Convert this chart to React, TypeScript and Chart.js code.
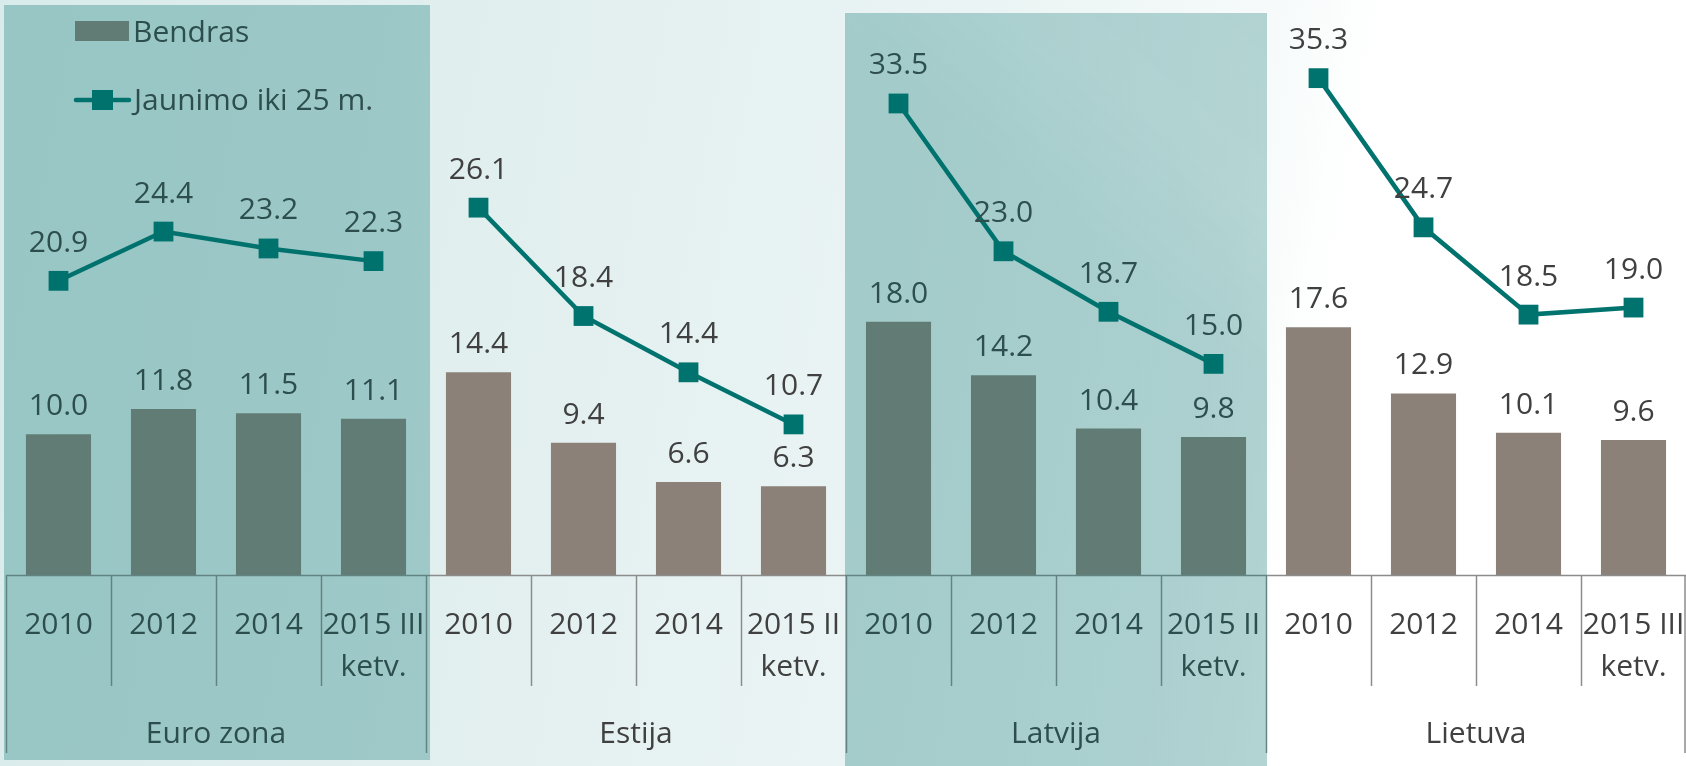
import React, { useEffect, useRef } from "react";
import { Chart, registerables } from "chart.js";

Chart.register(...registerables);

const groups = ["Euro zona", "Estija", "Latvija", "Lietuva"];
const yearLabels: string[][] = [
  ["2010"], ["2012"], ["2014"], ["2015 III", "ketv."],
  ["2010"], ["2012"], ["2014"], ["2015 II", "ketv."],
  ["2010"], ["2012"], ["2014"], ["2015 II", "ketv."],
  ["2010"], ["2012"], ["2014"], ["2015 III", "ketv."],
];
const bendras = [10.0, 11.8, 11.5, 11.1, 14.4, 9.4, 6.6, 6.3, 18.0, 14.2, 10.4, 9.8, 17.6, 12.9, 10.1, 9.6];
const jaunimo = [20.9, 24.4, 23.2, 22.3, 26.1, 18.4, 14.4, 10.7, 33.5, 23.0, 18.7, 15.0, 35.3, 24.7, 18.5, 19.0];
const seriesNames = ["Bendras", "Jaunimo iki 25 m."];
const highlightedGroups = [0, 2];

const BAR_COLOR = "#8B8178";
const LINE_COLOR = "#00736E";
const TEXT_COLOR = "#404040";
const GRID_COLOR = "#8c8c8c";
const OVERLAY = "rgba(0,112,108,0.30)";
const FONT = "30px 'Open Sans'";
const PER_GROUP = 4;

const customPlugin = {
  id: "customDraw",
  afterDraw(chart: any) {
    const ctx: CanvasRenderingContext2D = chart.ctx;
    const x = chart.scales.x;
    const area = chart.chartArea;
    const n = yearLabels.length;
    const step = x.getPixelForValue(1) - x.getPixelForValue(0);
    const boundary = (k: number) => (k < n ? x.getPixelForValue(k) - step / 2 : x.getPixelForValue(n - 1) + step / 2);
    const bottom = area.bottom;

    ctx.save();
    // axis baseline
    ctx.strokeStyle = GRID_COLOR;
    ctx.lineWidth = 1.5;
    ctx.beginPath();
    ctx.moveTo(boundary(0), bottom + 0.5);
    ctx.lineTo(boundary(n), bottom + 0.5);
    ctx.stroke();
    // dividers
    for (let k = 0; k <= n; k++) {
      const px = Math.min(Math.round(boundary(k)) + 0.5, chart.width - 1);
      const isGroup = k % PER_GROUP === 0;
      ctx.beginPath();
      ctx.moveTo(px, bottom);
      ctx.lineTo(px, bottom + (isGroup ? 178 : 111));
      ctx.stroke();
    }
    // year labels
    ctx.fillStyle = TEXT_COLOR;
    ctx.font = FONT;
    ctx.textAlign = "center";
    ctx.textBaseline = "alphabetic";
    yearLabels.forEach((lines, i) => {
      const cx = x.getPixelForValue(i);
      lines.forEach((t, j) => ctx.fillText(t, cx, bottom + 59 + j * 42));
    });
    // group labels
    groups.forEach((g, gi) => {
      const cx = (boundary(gi * PER_GROUP) + boundary((gi + 1) * PER_GROUP)) / 2;
      ctx.fillText(g, cx, bottom + 168);
    });

    // data labels
    const barMeta = chart.getDatasetMeta(0);
    const lineMeta = chart.getDatasetMeta(1);
    barMeta.data.forEach((el: any, i: number) => {
      ctx.fillText(bendras[i].toFixed(1), el.x, el.y - 19);
    });
    lineMeta.data.forEach((el: any, i: number) => {
      ctx.fillText(jaunimo[i].toFixed(1), el.x, el.y - 29);
    });

    // legend
    ctx.textAlign = "left";
    ctx.fillStyle = BAR_COLOR;
    ctx.fillRect(75, 21, 54, 20);
    ctx.fillStyle = TEXT_COLOR;
    ctx.fillText(chart.data.datasets[0].label, 133, 42);
    ctx.strokeStyle = LINE_COLOR;
    ctx.lineWidth = 4.5;
    ctx.lineCap = "round";
    ctx.beginPath();
    ctx.moveTo(76, 100);
    ctx.lineTo(129, 100);
    ctx.stroke();
    ctx.fillStyle = LINE_COLOR;
    ctx.fillRect(92, 90, 21, 20);
    ctx.fillStyle = TEXT_COLOR;
    ctx.fillText(chart.data.datasets[1].label, 134, 110);

    // translucent highlight panels
    highlightedGroups.forEach((gi) => {
      const l = boundary(gi * PER_GROUP);
      const r = boundary((gi + 1) * PER_GROUP);
      if (gi === 0) {
        ctx.fillStyle = OVERLAY;
        ctx.fillRect(l - 2, 5, r - l + 6, 755);
      } else {
        const grad = ctx.createLinearGradient(l, 500, r, 0);
        grad.addColorStop(0, "rgba(0,112,108,0.30)");
        grad.addColorStop(0.55, "rgba(0,112,108,0.30)");
        grad.addColorStop(0.75, "rgba(0,112,108,0.27)");
        grad.addColorStop(1, "rgba(0,112,108,0.28)");
        ctx.fillStyle = grad;
        ctx.fillRect(l - 1, 13, r - l + 2, 753);
      }
    });
    ctx.restore();
  },
};

export default function App() {
  const ref = useRef<HTMLCanvasElement>(null);
  useEffect(() => {
    if (!ref.current) return;
    const chart = new Chart(ref.current, {
      type: "bar",
      data: {
        labels: yearLabels,
        datasets: [
          {
            type: "bar",
            label: seriesNames[0],
            data: bendras,
            backgroundColor: BAR_COLOR,
            barPercentage: 0.62,
            categoryPercentage: 1,
            order: 2,
          },
          {
            type: "line",
            label: seriesNames[1],
            data: jaunimo,
            borderColor: LINE_COLOR,
            backgroundColor: LINE_COLOR,
            borderWidth: 4.5,
            pointStyle: "rect",
            pointRadius: 14,
            pointBorderWidth: 0,
            pointBackgroundColor: LINE_COLOR,
            tension: 0,
            order: 1,
            clip: false,
            segment: {
              borderColor: (c: any) => (c.p0DataIndex % PER_GROUP === PER_GROUP - 1 ? "rgba(0,0,0,0)" : LINE_COLOR),
            },
          } as any,
        ],
      },
      options: {
        responsive: false,
        animation: false,
        layout: { autoPadding: false, padding: { left: 6, right: 0, top: 12, bottom: 191 } },
        plugins: { legend: { display: false }, tooltip: { enabled: false }, title: { display: false } },
        scales: {
          x: { display: false, offset: true },
          y: { display: false, min: 0, max: 40 },
        },
      },
      plugins: [customPlugin],
    });
    return () => chart.destroy();
  }, []);
  return (
    <div
      style={{
        position: "fixed",
        left: 0,
        top: 0,
        width: 1686,
        height: 766,
        background:
          "linear-gradient(100deg, #d9ebeb 0%, #e2efef 30%, #ebf4f4 55%, #f6fafa 70%, #ffffff 76%)",
      }}
    >
      <canvas ref={ref} width={1686} height={766} style={{ display: "block" }} />
    </div>
  );
}
